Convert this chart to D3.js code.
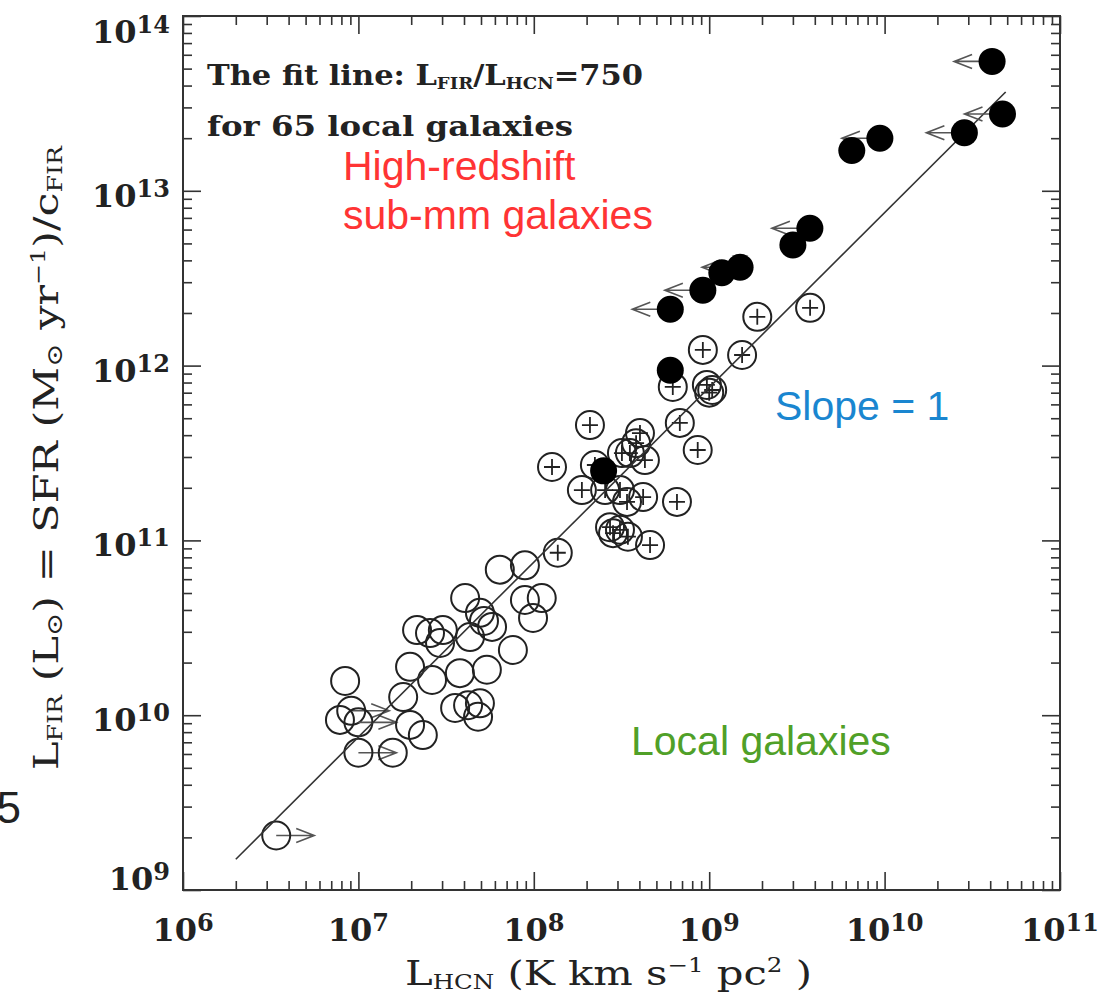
<!DOCTYPE html>
<html>
<head>
<meta charset="utf-8">
<script src="https://cdn.jsdelivr.net/npm/d3@7"></script>
<style>
  body { margin: 0; background: #fff; }
  svg { display: block; }
</style>
</head>
<body>
<div id="chart"></div>
<script>
// high-redshift sub-mm galaxies (filled dots); limit=1 -> upper limit on L_HCN
var hizHCN   = [4.1e10, 4.7e10, 2.85e10, 9.4e9, 6.5e9, 3.75e9, 3.0e9, 1.5e9, 1.18e9, 9.2e8, 6.0e8, 6.0e8, 2.5e8];
var hizFIR   = [5.5e13, 2.75e13, 2.15e13, 2.0e13, 1.7e13, 6.1e12, 4.9e12, 3.65e12, 3.4e12, 2.7e12, 2.1e12, 9.4e11, 2.5e11];
var hizLimit = [1, 1, 1, 1, 0, 1, 0, 1, 0, 1, 1, 0, 0];

// local normal spirals (open circles); limit=1 -> lower limit on L_HCN
var normHCN = [3.4e6, 8.4e6, 7.85e6, 9.1e6, 1.0e7, 1.0e7, 1.57e7, 1.8e7, 1.97e7, 2.33e7, 1.97e7,
               2.16e7, 2.56e7, 3.03e7, 2.92e7, 2.63e7, 3.79e7, 5.4e7, 4.06e7, 4.93e7, 5.2e7, 5.78e7,
               4.33e7, 7.6e7, 6.4e7, 8.9e7, 8.9e7, 1.11e8, 9.9e7, 3.56e7, 4.22e7, 4.93e7, 4.81e7];
var normFIR = [2.05e9, 1.57e10, 9.4e9, 1.06e10, 9.1e9, 6.1e9, 6.1e9, 1.27e10, 8.8e9, 7.7e9, 1.89e10,
               3.07e10, 2.95e10, 3.07e10, 2.59e10, 1.59e10, 1.74e10, 1.82e10, 4.68e10, 3.85e10, 3.46e10, 3.2e10,
               2.8e10, 2.36e10, 6.8e10, 7.2e10, 4.56e10, 4.68e10, 3.6e10, 1.1e10, 1.14e10, 1.17e10, 9.8e9];
var normLimit = [1, 0, 0, 1, 1, 1, 0, 0, 0, 0, 0, 0, 0, 0, 0, 0, 0, 0, 0, 0, 0, 0, 0, 0, 0, 0, 0, 0, 0, 0, 0, 0, 0];

// local LIRGs / ULIRGs (circles with a cross)
var lirgHCN = [1.37e8, 1.27e8, 2.09e8, 1.88e8, 2.23e8, 2.55e8, 3.18e8, 3.53e8, 3.83e8, 4.03e8, 4.3e8,
               3.1e8, 3.4e8, 4.2e8, 2.72e8, 2.83e8, 3.1e8, 3.44e8, 4.6e8, 6.55e8, 6.8e8, 8.6e8,
               6.2e8, 9.2e8, 1.54e9, 9.7e8, 1.04e9, 1.0e9, 1.88e9, 3.76e9];
var lirgFIR = [8.5e10, 2.63e11, 4.57e11, 1.94e11, 2.7e11, 1.94e11, 3.16e11, 3.16e11, 3.6e11, 4.11e11, 2.88e11,
               1.94e11, 1.66e11, 1.77e11, 1.19e11, 1.1e11, 1.15e11, 1.05e11, 9.4e10, 1.66e11, 4.7e11, 3.29e11,
               7.55e11, 1.23e12, 1.15e12, 7.75e11, 7.25e11, 7.0e11, 1.9e12, 2.14e12];

// fit line L_FIR / L_HCN = 750
var fitRatio = 750;
var fitHCN = [2e6, 4.9e10];

var xMajor = [1e6, 1e7, 1e8, 1e9, 1e10, 1e11];
var yMajor = [1e9, 1e10, 1e11, 1e12, 1e13, 1e14];

var width = 1100, height = 999;
var x = d3.scaleLog().domain([1e6, 1e11]).range([183, 1060]);
var y = d3.scaleLog().domain([1e9, 1e14]).range([890, 16]);

var svg = d3.select('#chart').append('svg')
    .attr('width', width)
    .attr('height', height)
    .style('font-family', '"DejaVu Serif", serif');

var ink = '#333';

function isMajor(v) { return Math.abs(Math.log10(v) - Math.round(Math.log10(v))) < 1e-6; }
var xMinor = x.ticks().filter(function (v) { return !isMajor(v); });
var yMinor = y.ticks().filter(function (v) { return !isMajor(v); });

function drawAxis(axis, tr) {
  svg.append('g')
    .attr('transform', tr)
    .call(axis)
    .call(function (g) { g.select('.domain').remove(); })
    .selectAll('line').attr('stroke', ink).attr('stroke-width', 1.6);
}

// ticks on all four sides, pointing inward
drawAxis(d3.axisBottom(x).tickValues(xMajor).tickSize(-18).tickFormat(''), 'translate(0,890)');
drawAxis(d3.axisBottom(x).tickValues(xMinor).tickSize(-9).tickFormat(''), 'translate(0,890)');
drawAxis(d3.axisTop(x).tickValues(xMajor).tickSize(-18).tickFormat(''), 'translate(0,16)');
drawAxis(d3.axisTop(x).tickValues(xMinor).tickSize(-9).tickFormat(''), 'translate(0,16)');
drawAxis(d3.axisLeft(y).tickValues(yMajor).tickSize(-18).tickFormat(''), 'translate(183,0)');
drawAxis(d3.axisLeft(y).tickValues(yMinor).tickSize(-9).tickFormat(''), 'translate(183,0)');
drawAxis(d3.axisRight(y).tickValues(yMajor).tickSize(-18).tickFormat(''), 'translate(1060,0)');
drawAxis(d3.axisRight(y).tickValues(yMinor).tickSize(-9).tickFormat(''), 'translate(1060,0)');

svg.append('rect')
  .attr('x', 183).attr('y', 16)
  .attr('width', 1060 - 183).attr('height', 890 - 16)
  .attr('fill', 'none').attr('stroke', ink).attr('stroke-width', 2);

// power-of-ten tick labels
function powLabel(sel, v) {
  sel.append('tspan').text('10');
  sel.append('tspan')
    .attr('dy', -10).attr('font-size', 24)
    .text(Math.round(Math.log10(v)));
}

xMajor.forEach(function (v) {
  var t = svg.append('text')
    .attr('x', x(v)).attr('y', 941)
    .attr('text-anchor', 'middle')
    .attr('font-size', 32).attr('font-weight', 'bold').attr('fill', '#222');
  powLabel(t, v);
});

yMajor.forEach(function (v, i) {
  var dy = 16;
  if (i == 0) dy = 0;
  if (i == yMajor.length - 1) dy = 27;
  var t = svg.append('text')
    .attr('x', 170).attr('y', y(v) + dy)
    .attr('text-anchor', 'end')
    .attr('font-size', 32).attr('font-weight', 'bold').attr('fill', '#222');
  powLabel(t, v);
});

// axis titles
var xt = svg.append('text')
  .attr('x', 405).attr('y', 985)
  .attr('font-size', 34).attr('fill', '#222')
  .attr('textLength', 407).attr('lengthAdjust', 'spacingAndGlyphs');
xt.append('tspan').text('L');
xt.append('tspan').attr('font-size', 20).attr('dy', 4).text('HCN');
xt.append('tspan').attr('dy', -4).text(' (K km s');
xt.append('tspan').attr('font-size', 20).attr('dy', -13).text('−1');
xt.append('tspan').attr('dy', 13).text(' pc');
xt.append('tspan').attr('font-size', 20).attr('dy', -13).text('2');
xt.append('tspan').attr('dy', 13).text(' )');

var yt = svg.append('text')
  .attr('transform', 'translate(58,770) rotate(-90)')
  .attr('font-size', 34).attr('fill', '#222')
  .attr('textLength', 624).attr('lengthAdjust', 'spacingAndGlyphs');
yt.append('tspan').text('L');
yt.append('tspan').attr('font-size', 20).attr('dy', 4).text('FIR');
yt.append('tspan').attr('dy', -4).text(' (L');
yt.append('tspan').attr('font-size', 22).attr('dy', 4).text('⊙');
yt.append('tspan').attr('dy', -4).text(') = SFR (M');
yt.append('tspan').attr('font-size', 22).attr('dy', 4).text('⊙');
yt.append('tspan').attr('dy', -4).text(' yr');
yt.append('tspan').attr('font-size', 20).attr('dy', -13).text('−1');
yt.append('tspan').attr('dy', 13).text(')/c');
yt.append('tspan').attr('font-size', 20).attr('dy', 4).text('FIR');

// fit note
var n1 = svg.append('text')
  .attr('x', 207).attr('y', 85)
  .attr('font-size', 27).attr('font-weight', 'bold').attr('fill', '#222')
  .attr('textLength', 436).attr('lengthAdjust', 'spacingAndGlyphs');
n1.append('tspan').text('The fit line: L');
n1.append('tspan').attr('font-size', 16).attr('dy', 4).text('FIR');
n1.append('tspan').attr('dy', -4).text('/L');
n1.append('tspan').attr('font-size', 16).attr('dy', 4).text('HCN');
n1.append('tspan').attr('dy', -4).text('=' + fitRatio);

svg.append('text')
  .attr('x', 207).attr('y', 136)
  .attr('font-size', 27).attr('font-weight', 'bold').attr('fill', '#222')
  .attr('textLength', 366).attr('lengthAdjust', 'spacingAndGlyphs')
  .text('for 65 local galaxies');

// slide annotations
var sans = '"Liberation Sans", Arial, sans-serif';
svg.append('text').attr('x', 343).attr('y', 180).attr('font-family', sans)
  .attr('font-size', 41).attr('fill', '#ff3434').text('High-redshift');
svg.append('text').attr('x', 343).attr('y', 229).attr('font-family', sans)
  .attr('font-size', 41).attr('fill', '#ff3434').text('sub-mm galaxies');
svg.append('text').attr('x', 775).attr('y', 420).attr('font-family', sans)
  .attr('font-size', 41).attr('fill', '#1a86d0').text('Slope = 1');
svg.append('text').attr('x', 631).attr('y', 755).attr('font-family', sans)
  .attr('font-size', 41).attr('fill', '#50a028').text('Local galaxies');
// leftover glyph from the neighbouring slide
svg.append('text').attr('x', 21).attr('y', 823).attr('font-family', sans)
  .attr('text-anchor', 'end').attr('font-size', 44).attr('font-weight', 300)
  .attr('fill', '#222').text('05');

var plot = svg.append('g');
var r = 14;

function arrow(cx, cy, dir) {
  // dir -1: points left (upper limit), +1: points right (lower limit)
  var tip = cx + dir * 38, back = cx + dir * 20;
  plot.append('path')
    .attr('d', 'M' + cx + ',' + cy + 'L' + tip + ',' + cy +
               'M' + back + ',' + (cy - 7) + 'L' + tip + ',' + cy + 'L' + back + ',' + (cy + 7))
    .attr('fill', 'none').attr('stroke', '#555').attr('stroke-width', 1.6);
}

// normal spirals
normHCN.forEach(function (v, i) {
  var cx = x(v), cy = y(normFIR[i]);
  if (normLimit[i]) arrow(cx, cy, 1);
  plot.append('circle').attr('cx', cx).attr('cy', cy).attr('r', r)
    .attr('fill', 'none').attr('stroke', '#222').attr('stroke-width', 2);
});

// LIRGs with a cross
lirgHCN.forEach(function (v, i) {
  var cx = x(v), cy = y(lirgFIR[i]);
  plot.append('circle').attr('cx', cx).attr('cy', cy).attr('r', r)
    .attr('fill', 'none').attr('stroke', '#222').attr('stroke-width', 2);
  plot.append('path')
    .attr('d', 'M' + (cx - 8) + ',' + cy + 'H' + (cx + 8) + 'M' + cx + ',' + (cy - 8) + 'V' + (cy + 8))
    .attr('stroke', '#222').attr('stroke-width', 1.8);
});

// fit line
var line = d3.line()
  .x(function (d) { return x(d); })
  .y(function (d) { return y(d * fitRatio); });
plot.append('path')
  .datum(fitHCN)
  .attr('d', line)
  .attr('fill', 'none').attr('stroke', '#333').attr('stroke-width', 1.6);

// high-z galaxies
hizHCN.forEach(function (v, i) {
  var cx = x(v), cy = y(hizFIR[i]);
  if (hizLimit[i]) arrow(cx, cy, -1);
  plot.append('circle').attr('cx', cx).attr('cy', cy).attr('r', 13.5)
    .attr('fill', '#000');
});
</script>
</body>
</html>
